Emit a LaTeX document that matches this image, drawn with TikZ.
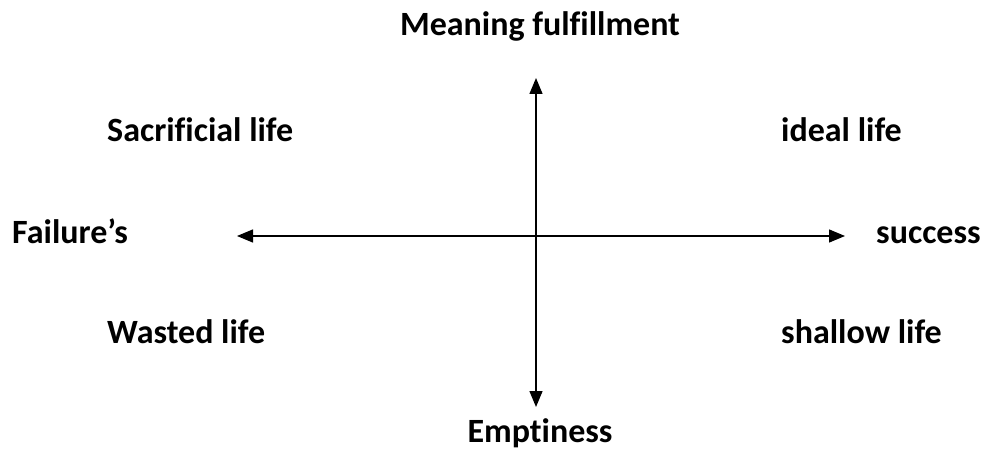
\documentclass[tikz,border=0pt]{standalone}
\usepackage{fontspec}
\setmainfont{Carlito}[Ligatures={NoCommon,NoDiscretionary}, RawFeature={-liga;-clig;-dlig}]
\usetikzlibrary{positioning, calc, arrows.meta}

\tikzset{
  lbl/.style={font=\fontsize{34}{37}\selectfont\bfseries, inner sep=0pt, text=black},
  axis/.style={line width=1.4pt, {Triangle[length=16pt, width=13pt]}-{Triangle[length=16pt, width=13pt]}}
}

\begin{document}
\begin{tikzpicture}[x=1pt, y=-1pt]
        \useasboundingbox (0,0) rectangle (984,449);

        % axes
        \coordinate (top) at (536, 78);
        \coordinate (bottom) at (536, 407);
        \coordinate (left) at (237, 236);
        \coordinate (right) at (845, 236);
        \draw[axis] (bottom) -- (top);
        \draw[axis] (left) -- (right);

        % axis ends
        \node[lbl, anchor=base] (meaning) at (540, 36) {Meaning fulfillment};
        \node[lbl, anchor=base] (empty) at (540, 442) {Emptiness};
        \node[lbl, anchor=base west] (failure) at (12, 243) {Failure’s};
        \node[lbl, anchor=base west] (success) at (876, 243) {success};

        % quadrants
        \node[lbl, anchor=base west] (sacrifice) at (107, 142) {Sacrificial life};
        \node[lbl, anchor=base west] (ideal) at (781, 142) {ideal life};
        \node[lbl, anchor=base west] (wasted) at (107, 343) {Wasted life};
        \node[lbl, anchor=base west] (shallow) at (781, 343) {shallow life};
      \end{tikzpicture}
\end{document}
